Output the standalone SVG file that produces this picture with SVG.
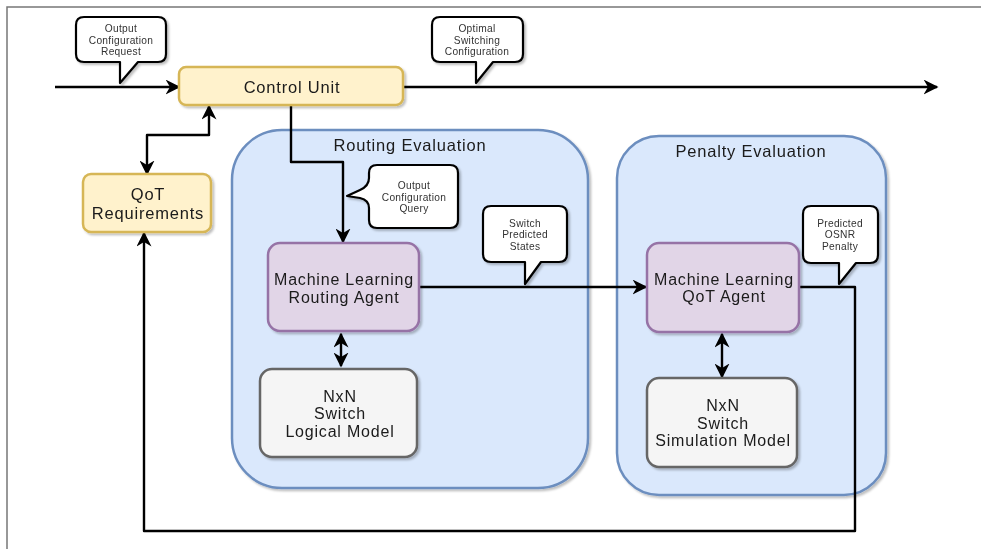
<svg xmlns="http://www.w3.org/2000/svg" width="981" height="549" viewBox="0 0 981 549">
<style>
text{font-family:"Liberation Sans",Arial,sans-serif;text-anchor:middle;dominant-baseline:central;fill:#1a1a1a}
.t16{font-size:16.5px;letter-spacing:0.8px}
.t15{font-size:16px;letter-spacing:0.8px}
.t10{font-size:10.2px;letter-spacing:0.3px;fill:#333}
.cu{fill:#fff2cc;stroke:#d6b656;stroke-width:2.5}
.grp{fill:#dae8fc;stroke:#6c8ebf;stroke-width:2.5}
.ml{fill:#e1d5e7;stroke:#9673a6;stroke-width:2.5}
.sw{fill:#f5f5f5;stroke:#666;stroke-width:2.5}
.call{fill:#fff;stroke:#000;stroke-width:2.2;stroke-linejoin:round}
.ln{fill:none;stroke:#000;stroke-width:2.4;stroke-linejoin:round}
</style>
<defs>
<filter id="sh" x="-10%" y="-10%" width="130%" height="130%">
<feDropShadow dx="2" dy="2" stdDeviation="1.2" flood-color="#000" flood-opacity="0.25"/>
</filter>
<marker id="ah2" viewBox="0 0 10 10" refX="9" refY="5" markerWidth="15" markerHeight="15" orient="auto-start-reverse" markerUnits="userSpaceOnUse">
<path d="M0,0 L10,5 L0,10 L3,5 z" fill="#000"/>
</marker>
</defs>
<rect width="981" height="549" fill="#fff"/>
<path d="M7,549 V7 H981" fill="none" stroke="#777" stroke-width="1.5"/>

<g id="routing-group" filter="url(#sh)">
<rect class="grp" x="232" y="130" width="356" height="358" rx="50"/>
<text class="t16" x="410" y="145">Routing Evaluation</text>
</g>
<g id="penalty-group" filter="url(#sh)">
<rect class="grp" x="617" y="136" width="269" height="359" rx="42"/>
<text class="t16" x="751" y="151">Penalty Evaluation</text>
</g>

<g id="connectors">
<line class="ln" x1="55" y1="87" x2="179" y2="87" marker-end="url(#ah2)"/>
<line class="ln" x1="403" y1="87" x2="937" y2="87" marker-end="url(#ah2)"/>
<path class="ln" d="M209,106 V135 H147 V174" marker-start="url(#ah2)" marker-end="url(#ah2)"/>
<path class="ln" d="M291,104 V162 H343 V242" marker-end="url(#ah2)"/>
<line class="ln" x1="420" y1="287" x2="646" y2="287" marker-end="url(#ah2)"/>
<path class="ln" d="M799,287 H855 V531 H144 V233" marker-end="url(#ah2)"/>
<line class="ln" x1="341" y1="334" x2="341" y2="366" marker-start="url(#ah2)" marker-end="url(#ah2)"/>
<line class="ln" x1="722" y1="334" x2="722" y2="377" marker-start="url(#ah2)" marker-end="url(#ah2)"/>
</g>

<g id="callout-request" filter="url(#sh)">
<path class="call" d="M84,17 H158 Q166,17 166,25 V54 Q166,62 158,62 H138 L120,83 V62 H84 Q76,62 76,54 V25 Q76,17 84,17 Z"/>
<text class="t10" x="121" y="28">Output</text>
<text class="t10" x="121" y="40">Configuration</text>
<text class="t10" x="121" y="51">Request</text>
</g>
<g id="callout-optimal" filter="url(#sh)">
<path class="call" d="M440,17 H515 Q523,17 523,25 V54 Q523,62 515,62 H493 L476,83 V62 H440 Q432,62 432,54 V25 Q432,17 440,17 Z"/>
<text class="t10" x="477" y="28">Optimal</text>
<text class="t10" x="477" y="40">Switching</text>
<text class="t10" x="477" y="51">Configuration</text>
</g>

<g id="control-unit" filter="url(#sh)">
<rect class="cu" x="179" y="67" width="224" height="38" rx="7"/>
<text class="t16" x="292" y="87">Control Unit</text>
</g>
<g id="qot-requirements" filter="url(#sh)">
<rect class="cu" x="83" y="174" width="128" height="58" rx="8"/>
<text class="t16" x="148" y="194">QoT</text>
<text class="t16" x="148" y="213">Requirements</text>
</g>

<g id="callout-query" filter="url(#sh)">
<path class="call" d="M377,165 H450 Q458,165 458,173 V220 Q458,228 450,228 H377 Q369,228 369,220 V208 Q369,200 360,198 L347,196 L360,190 Q369,186 369,178 V173 Q369,165 377,165 Z"/>
<text class="t10" x="414" y="185">Output</text>
<text class="t10" x="414" y="197">Configuration</text>
<text class="t10" x="414" y="208">Query</text>
</g>

<g id="ml-routing" filter="url(#sh)">
<rect class="ml" x="268" y="243" width="151" height="88" rx="12"/>
<text class="t15" x="344" y="279">Machine Learning</text>
<text class="t15" x="344" y="297">Routing Agent</text>
</g>
<g id="logical-model" filter="url(#sh)">
<rect class="sw" x="260" y="369" width="157" height="88" rx="12"/>
<text class="t15" x="340" y="396">NxN</text>
<text class="t15" x="340" y="413">Switch</text>
<text class="t15" x="340" y="431">Logical Model</text>
</g>

<g id="callout-states" filter="url(#sh)">
<path class="call" d="M491,206 H559 Q567,206 567,214 V254 Q567,262 559,262 H541 L525,284 V262 H491 Q483,262 483,254 V214 Q483,206 491,206 Z"/>
<text class="t10" x="525" y="223">Switch</text>
<text class="t10" x="525" y="234">Predicted</text>
<text class="t10" x="525" y="246">States</text>
</g>

<g id="ml-qot" filter="url(#sh)">
<rect class="ml" x="647" y="243" width="152" height="89" rx="12"/>
<text class="t15" x="724" y="279">Machine Learning</text>
<text class="t15" x="724" y="296">QoT Agent</text>
</g>
<g id="simulation-model" filter="url(#sh)">
<rect class="sw" x="647" y="378" width="150" height="89" rx="12"/>
<text class="t15" x="723" y="405">NxN</text>
<text class="t15" x="723" y="423">Switch</text>
<text class="t15" x="723" y="440">Simulation Model</text>
</g>

<g id="callout-penalty" filter="url(#sh)">
<path class="call" d="M811,206 H870 Q878,206 878,214 V255 Q878,263 870,263 H856 L839,284 V263 H811 Q803,263 803,255 V214 Q803,206 811,206 Z"/>
<text class="t10" x="840" y="223">Predicted</text>
<text class="t10" x="840" y="234">OSNR</text>
<text class="t10" x="840" y="246">Penalty</text>
</g>
</svg>
